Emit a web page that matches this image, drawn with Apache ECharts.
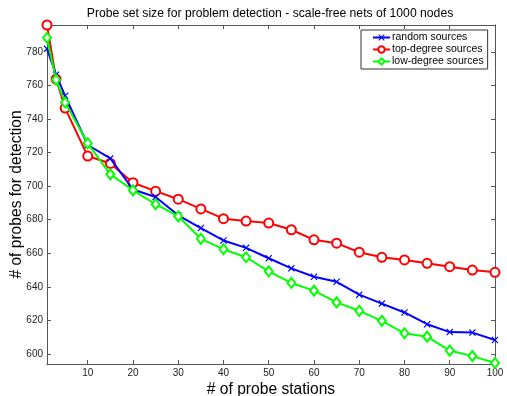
<!DOCTYPE html>
<html>
<head>
<meta charset="utf-8">
<script src="https://cdn.jsdelivr.net/npm/echarts@6/dist/echarts.min.js"></script>
<style>html,body{margin:0;padding:0;background:#fff}#c{width:507px;height:396px}</style>
</head>
<body>
<div id="c"></div>
<script>
const stations = [1, 3, 5, 10, 15, 20, 25, 30, 35, 40, 45, 50, 55, 60, 65, 70, 75, 80, 85, 90, 95, 100];
const randomSources = [781.8, 766.4, 753.8, 724.5, 716.5, 698, 693.5, 682.6, 675, 667.6, 663.2, 657, 651, 646, 643, 635.3, 630, 624.7, 617.7, 613, 612.7, 608.3];
const topDegree = [796, 763.8, 746.5, 717.9, 713.5, 702, 697, 692.2, 686.4, 680.6, 679.2, 678, 674, 668, 666, 660.6, 657.6, 656, 654, 652, 650, 648.6];
const lowDegree = [788.4, 763.4, 749.8, 725.5, 707, 697.5, 689.2, 682, 668.6, 662.4, 657.6, 649.2, 642.3, 637.7, 630.7, 625.7, 619.7, 612.3, 610.3, 602, 598.7, 594.6];
const xTicks = [10, 20, 30, 40, 50, 60, 70, 80, 90, 100];
const yTicks = [600, 620, 640, 660, 680, 700, 720, 740, 760, 780];

const FONT = 'Liberation Sans, Arial, sans-serif';
const xMark = 'path://M0,1.2L1.2,0L5,3.8L8.8,0L10,1.2L6.2,5L10,8.8L8.8,10L5,6.2L1.2,10L0,8.8L3.8,5Z';

function pairs(ys) { return stations.map((x, i) => [x, ys[i]]); }

const axisLineStyle = { color: '#555', width: 1 };
const chart = echarts.init(document.getElementById('c'), null, { renderer: 'canvas' });
chart.setOption({
  animation: false,
  backgroundColor: '#fff',
  title: {
    text: 'Probe set size for problem detection - scale-free nets of 1000 nodes',
    left: 270, top: 8, textAlign: 'center', padding: 0,
    textStyle: { fontFamily: FONT, fontSize: 12.2, fontWeight: 'normal', color: '#000' }
  },
  grid: { left: 47, right: 12, top: 25, bottom: 32, containLabel: false, outerBoundsMode: 'none' },
  legend: {
    orient: 'vertical', left: 361, top: 30,
    padding: [2, 4, 2, 11],
    itemGap: 1, itemWidth: 17, itemHeight: 8,
    borderColor: '#333', borderWidth: 1, backgroundColor: '#fff',
    textStyle: { fontFamily: FONT, fontSize: 10.5, color: '#000', padding: [0, 0, 0, -3] },
    data: ['random sources', 'top-degree sources', 'low-degree sources']
  },
  xAxis: [{
    type: 'value', min: 1, max: 100, position: 'bottom',
    name: '# of probe stations', nameLocation: 'middle', nameGap: 18, nameMoveOverlap: false,
    nameTextStyle: { fontFamily: FONT, fontSize: 15.6, color: '#000' },
    axisLine: { show: true, lineStyle: axisLineStyle },
    axisTick: { show: true, inside: true, length: 4, customValues: xTicks, lineStyle: axisLineStyle },
    axisLabel: { customValues: xTicks, fontFamily: FONT, fontSize: 10, color: '#222', margin: 4 },
    splitLine: { show: false }
  }, {
    type: 'value', min: 1, max: 100, position: 'top',
    axisLine: { show: true, lineStyle: axisLineStyle },
    axisTick: { show: true, inside: true, length: 4, customValues: xTicks, lineStyle: axisLineStyle },
    axisLabel: { show: false },
    splitLine: { show: false }
  }],
  yAxis: [{
    type: 'value', min: 594, max: 796, position: 'left',
    name: '# of probes for detection', nameLocation: 'middle', nameGap: 22, nameMoveOverlap: false,
    nameTextStyle: { fontFamily: FONT, fontSize: 15.6, color: '#000' },
    axisLine: { show: true, lineStyle: axisLineStyle },
    axisTick: { show: true, inside: true, length: 4, customValues: yTicks, lineStyle: axisLineStyle },
    axisLabel: { customValues: yTicks, fontFamily: FONT, fontSize: 10, color: '#222', margin: 4 },
    splitLine: { show: false }
  }, {
    type: 'value', min: 594, max: 796, position: 'right',
    axisLine: { show: true, lineStyle: axisLineStyle },
    axisTick: { show: true, inside: true, length: 4, customValues: yTicks, lineStyle: axisLineStyle },
    axisLabel: { show: false },
    splitLine: { show: false }
  }],
  series: [{
    name: 'random sources', type: 'line', data: pairs(randomSources),
    clip: false, symbol: xMark, symbolSize: 7,
    lineStyle: { color: '#0000ff', width: 2 },
    itemStyle: { color: '#0000ff' }, z: 3
  }, {
    name: 'top-degree sources', type: 'line', data: pairs(topDegree),
    clip: false, symbol: 'emptyCircle', symbolSize: 9,
    lineStyle: { color: '#ff0000', width: 2 },
    itemStyle: { color: '#ff0000', borderColor: '#ff0000', borderWidth: 1.6 }, z: 2
  }, {
    name: 'low-degree sources', type: 'line', data: pairs(lowDegree),
    clip: false, symbol: 'emptyDiamond', symbolSize: [8, 10],
    lineStyle: { color: '#00ff00', width: 2 },
    itemStyle: { color: '#00ff00', borderColor: '#00ff00', borderWidth: 1.6 }, z: 4
  }]
});
</script>
</body>
</html>
